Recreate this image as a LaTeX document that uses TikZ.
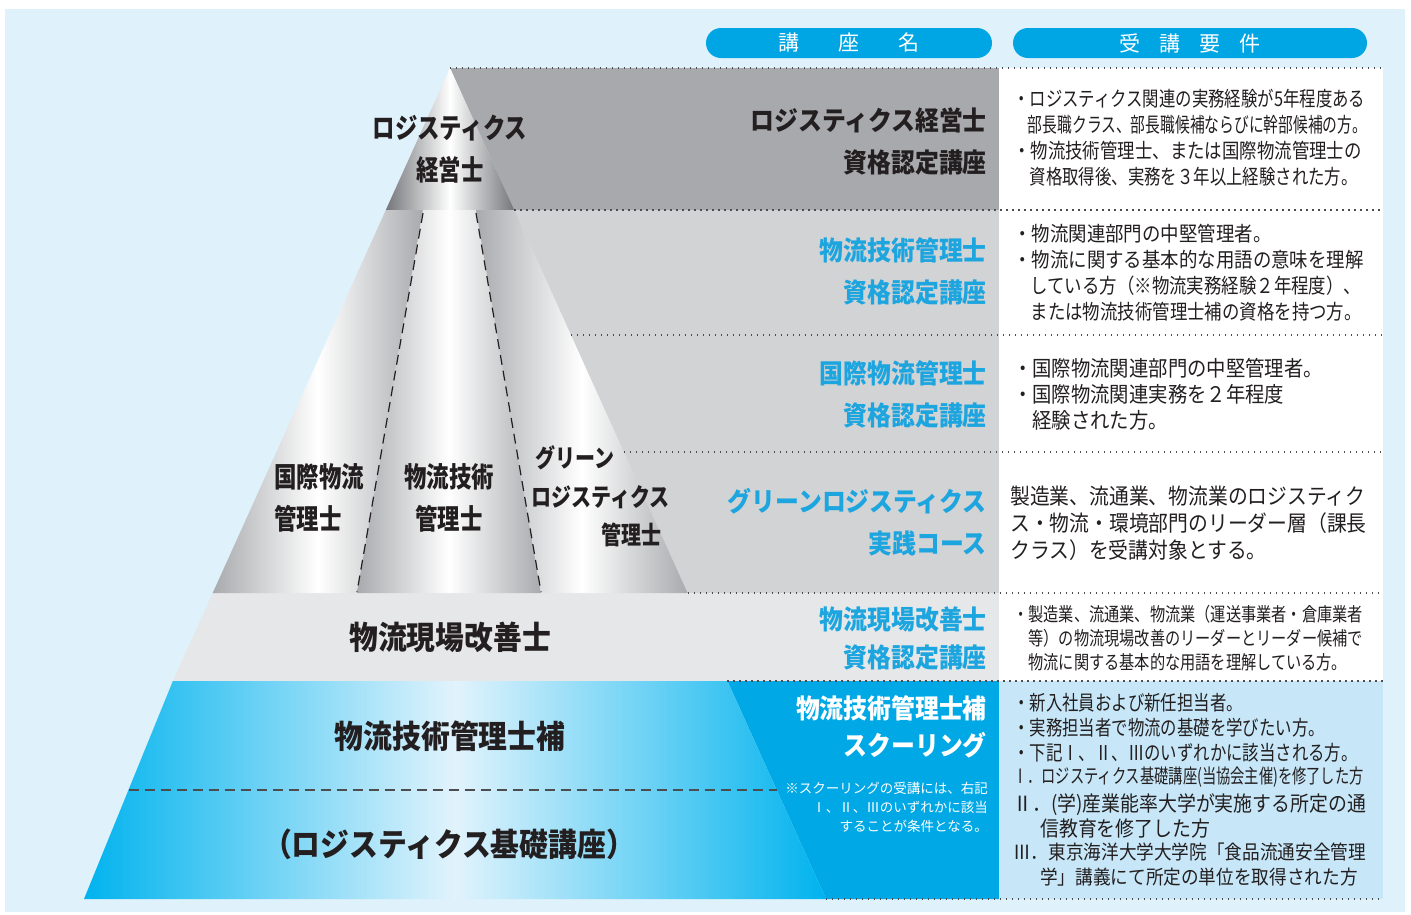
\documentclass[tikz,border=0pt]{standalone}
\usepackage{fontspec}
\usepackage{tikz}
\usetikzlibrary{positioning}
\setmainfont{Noto Sans CJK JP}
\newfontfamily\jpfont{Noto Sans CJK JP}
\newfontfamily\jpnarrow[FakeStretch=0.9]{Noto Sans CJK JP}
\newfontfamily\jpmid[FakeStretch=0.85]{Noto Sans CJK JP}
\newfontfamily\jpslim[FakeStretch=0.8]{Noto Sans CJK JP}
\newfontfamily\jpthin[FakeStretch=0.72]{Noto Sans CJK JP}
\definecolor{bgBlue}{HTML}{DFF1FB}
\definecolor{pillBlue}{HTML}{00A5E3}
\definecolor{nameCyan}{HTML}{1DA5DF}
\definecolor{topGray}{HTML}{A7A9AC}
\definecolor{midGray}{HTML}{D1D3D4}
\definecolor{lowGray}{HTML}{E6E7E8}
\definecolor{coneGray}{HTML}{74767A}
\definecolor{fluteGray}{HTML}{A8AAAD}
\definecolor{deepCyan}{HTML}{00A8E5}
\definecolor{edgeCyan}{HTML}{00B3EE}
\definecolor{paleCyan}{HTML}{E1F3FC}
\definecolor{reqBlue}{HTML}{C7E7F8}
\definecolor{dotGray}{HTML}{4D4D4F}
\definecolor{inkBlack}{HTML}{231F20}
\tikzstyle{pill} = [rectangle, rounded corners=15pt, fill=pillBlue, text=white, minimum height=30pt, inner sep=0pt, font=\jpfont\fontsize{21}{21}\selectfont]
\tikzstyle{rowDots} = [dotGray, line width=1.3pt, dash pattern=on 1.3pt off 4.7pt]
\tikzstyle{coneDash} = [inkBlack, line width=1.2pt, dash pattern=on 10pt off 6pt]
\tikzstyle{baseDash} = [dotGray, line width=1.1pt, dash pattern=on 10pt off 6pt]
\tikzstyle{flute} = [left color=fluteGray, right color=fluteGray, middle color=white]
\tikzstyle{courseName} = [anchor=east, align=right, inner sep=0pt, font=\jpnarrow\bfseries\fontsize{26.5}{42}\selectfont]
\tikzstyle{reqText} = [anchor=west, align=left, inner sep=0pt, text=inkBlack]
\tikzstyle{rankLabel} = [align=center, inner sep=0pt, text=inkBlack, font=\jpslim\bfseries\fontsize{28}{42}\selectfont]
\tikzstyle{bandLabel} = [inner sep=0pt, text=inkBlack, font=\jpnarrow\bfseries\fontsize{32}{32}\selectfont]

\begin{document}
\begin{tikzpicture}[x=1pt,y=-1pt]
		%frame
		\useasboundingbox (0,0) rectangle (1411,914);
		\fill[bgBlue] (5,9) rectangle (1405,912);
		%bands
		\fill[topGray] (450,68) -- (999,68) -- (999,210) -- (514.3,210) -- cycle;
		\fill[midGray] (514.3,210) -- (999,210) -- (999,593) -- (687.6,593) -- cycle;
		\fill[lowGray] (212.7,593) -- (999,593) -- (999,681) -- (172.9,681) -- cycle;
		\fill[deepCyan] (727.4,681) -- (999,681) -- (999,899) -- (826,899) -- cycle;
		\fill[white] (999,68) rectangle (1383,681);
		\fill[reqBlue] (999,681) rectangle (1383,899);
		%cone
		\shade[left color=coneGray, right color=coneGray, middle color=white] (450,68) -- (514.3,210) -- (385.8,210) -- cycle;
		\shade[flute] (385.8,210) -- (423,210) -- (357,593) -- (212.7,593) -- cycle;
		\shade[flute] (423,210) -- (476,210) -- (541,593) -- (357,593) -- cycle;
		\shade[flute] (476,210) -- (514.3,210) -- (687.6,593) -- (541,593) -- cycle;
		\shade[left color=edgeCyan, right color=edgeCyan, middle color=paleCyan] (172.9,681) -- (727.4,681) -- (826,899) -- (84,899) -- cycle;
		\draw[coneDash] (423,213) -- (357,592);
		\draw[coneDash] (476,213) -- (541,592);
		\draw[baseDash] (128.5,790) -- (776.7,790);
		%dotted rows
		\draw[rowDots] (450,68) -- (1383,68);
		\draw[rowDots] (514.3,210) -- (1383,210);
		\draw[rowDots] (570.8,335) -- (1383,335);
		\draw[rowDots] (623.8,452) -- (1383,452);
		\draw[rowDots] (687.6,593) -- (1383,593);
		\draw[rowDots] (727.4,681) -- (1383,681);
		\draw[rowDots] (826,899) -- (1383,899);

		%headers
		\node[pill, minimum width=286pt] (head_name) at (849,43) {講\hspace{39pt}座\hspace{39pt}名};
		\node[pill, minimum width=354pt] (head_req) at (1190,43) {受\hspace{19pt}講\hspace{19pt}要\hspace{19pt}件};

		%pyramid labels
		\node[rankLabel] (lbl_exec) at (450,149) {ロジスティクス\\経営士};
		\node[rankLabel, anchor=west, align=left] (lbl_intl) at (274,498) {国際物流\\管理士};
		\node[rankLabel] (lbl_tech) at (449,498) {物流技術\\管理士};
		\node[rankLabel, anchor=west, font=\jpslim\bfseries\fontsize{25}{25}\selectfont] (lbl_green_top) at (535,458) {グリーン};
		\node[rankLabel, anchor=west, font=\jpslim\bfseries\fontsize{25}{25}\selectfont] (lbl_green_mid) at (531,497) {ロジスティクス};
		\node[rankLabel, anchor=east, font=\jpslim\bfseries\fontsize{25}{25}\selectfont] (lbl_green_low) at (662,535) {管理士};
		\node[bandLabel] (lbl_site) at (450,637) {物流現場改善士};
		\node[bandLabel] (lbl_assist) at (450,736) {物流技術管理士補};
		\node[bandLabel] (lbl_basic) at (449,844) {（ロジスティクス基礎講座）};

		%course names
		\node[courseName, text=inkBlack] (name_exec) at (987,141) {ロジスティクス経営士\\資格認定講座};
		\node[courseName, text=nameCyan] (name_tech) at (987,271.5) {物流技術管理士\\資格認定講座};
		\node[courseName, text=nameCyan] (name_intl) at (987,394.5) {国際物流管理士\\資格認定講座};
		\node[courseName, text=nameCyan] (name_green) at (987,522.5) {グリーンロジスティクス\\実践コース};
		\node[courseName, text=nameCyan, font=\jpnarrow\bfseries\fontsize{26.5}{38}\selectfont] (name_site) at (987,638) {物流現場改善士\\資格認定講座};
		\node[courseName, text=white, font=\jpnarrow\bfseries\fontsize{26.5}{37}\selectfont] (name_school) at (987,726.5) {物流技術管理士補\\スクーリング};
		\node[courseName, text=white, font=\jpfont\fontsize{13.5}{19}\selectfont] (note_school) at (988,807) {※スクーリングの受講には、右記\\Ⅰ、Ⅱ、Ⅲのいずれかに該当\\することが条件となる。};

		%requirements
		\node[reqText, font=\jpslim\fontsize{20.5}{26}\selectfont] (req_exec) at (1013,138) {・ロジスティクス関連の実務経験が5年程度ある\\{\jpthin 　部長職クラス、部長職候補ならびに幹部候補の方。}\\{\jpmid ・物流技術管理士、または国際物流管理士の}\\　資格取得後、実務を３年以上経験された方。};
		\node[reqText, font=\jpnarrow\fontsize{20.5}{26}\selectfont] (req_tech) at (1013,273) {・物流関連部門の中堅管理者。\\・物流に関する基本的な用語の意味を理解\\{\jpmid 　している方（※物流実務経験２年程度）、}\\{\jpmid 　または物流技術管理士補の資格を持つ方。}};
		\node[reqText, font=\jpnarrow\fontsize{21.5}{26}\selectfont] (req_intl) at (1013,394) {・国際物流関連部門の中堅管理者。\\・国際物流関連実務を２年程度\\　経験された方。};
		\node[reqText, font=\jpnarrow\fontsize{22}{27}\selectfont] (req_green) at (1010,523) {製造業、流通業、物流業のロジスティク\\ス・物流・環境部門のリーダー層（課長\\クラス）を受講対象とする。};
		\node[reqText, font=\jpslim\fontsize{19}{24}\selectfont] (req_site) at (1013,638) {・製造業、流通業、物流業（運送事業者・倉庫業者\\　等）の物流現場改善のリーダーとリーダー候補で\\　物流に関する基本的な用語を理解している方。};
		\node[reqText, font=\jpslim\fontsize{20.5}{25}\selectfont] (req_school_a) at (1013,728) {・新入社員および新任担当者。\\・実務担当者で物流の基礎を学びたい方。\\・下記Ⅰ、Ⅱ、Ⅲのいずれかに該当される方。};
		\node[reqText, font=\jpthin\fontsize{19.8}{25}\selectfont] (req_school_b) at (1013,777) {Ⅰ．ロジスティクス基礎講座(当協会主催)を修了した方};
		\node[reqText, font=\jpnarrow\fontsize{21}{25}\selectfont] (req_school_c) at (1013,815.5) {Ⅱ．(学)産業能率大学が実施する所定の通\\\hspace*{27pt}信教育を修了した方};
		\node[reqText, font=\jpnarrow\fontsize{19.6}{25}\selectfont] (req_school_d) at (1013,864.5) {Ⅲ．東京海洋大学大学院「食品流通安全管理\\\hspace*{27pt}学」講義にて所定の単位を取得された方};
	\end{tikzpicture}
\end{document}
